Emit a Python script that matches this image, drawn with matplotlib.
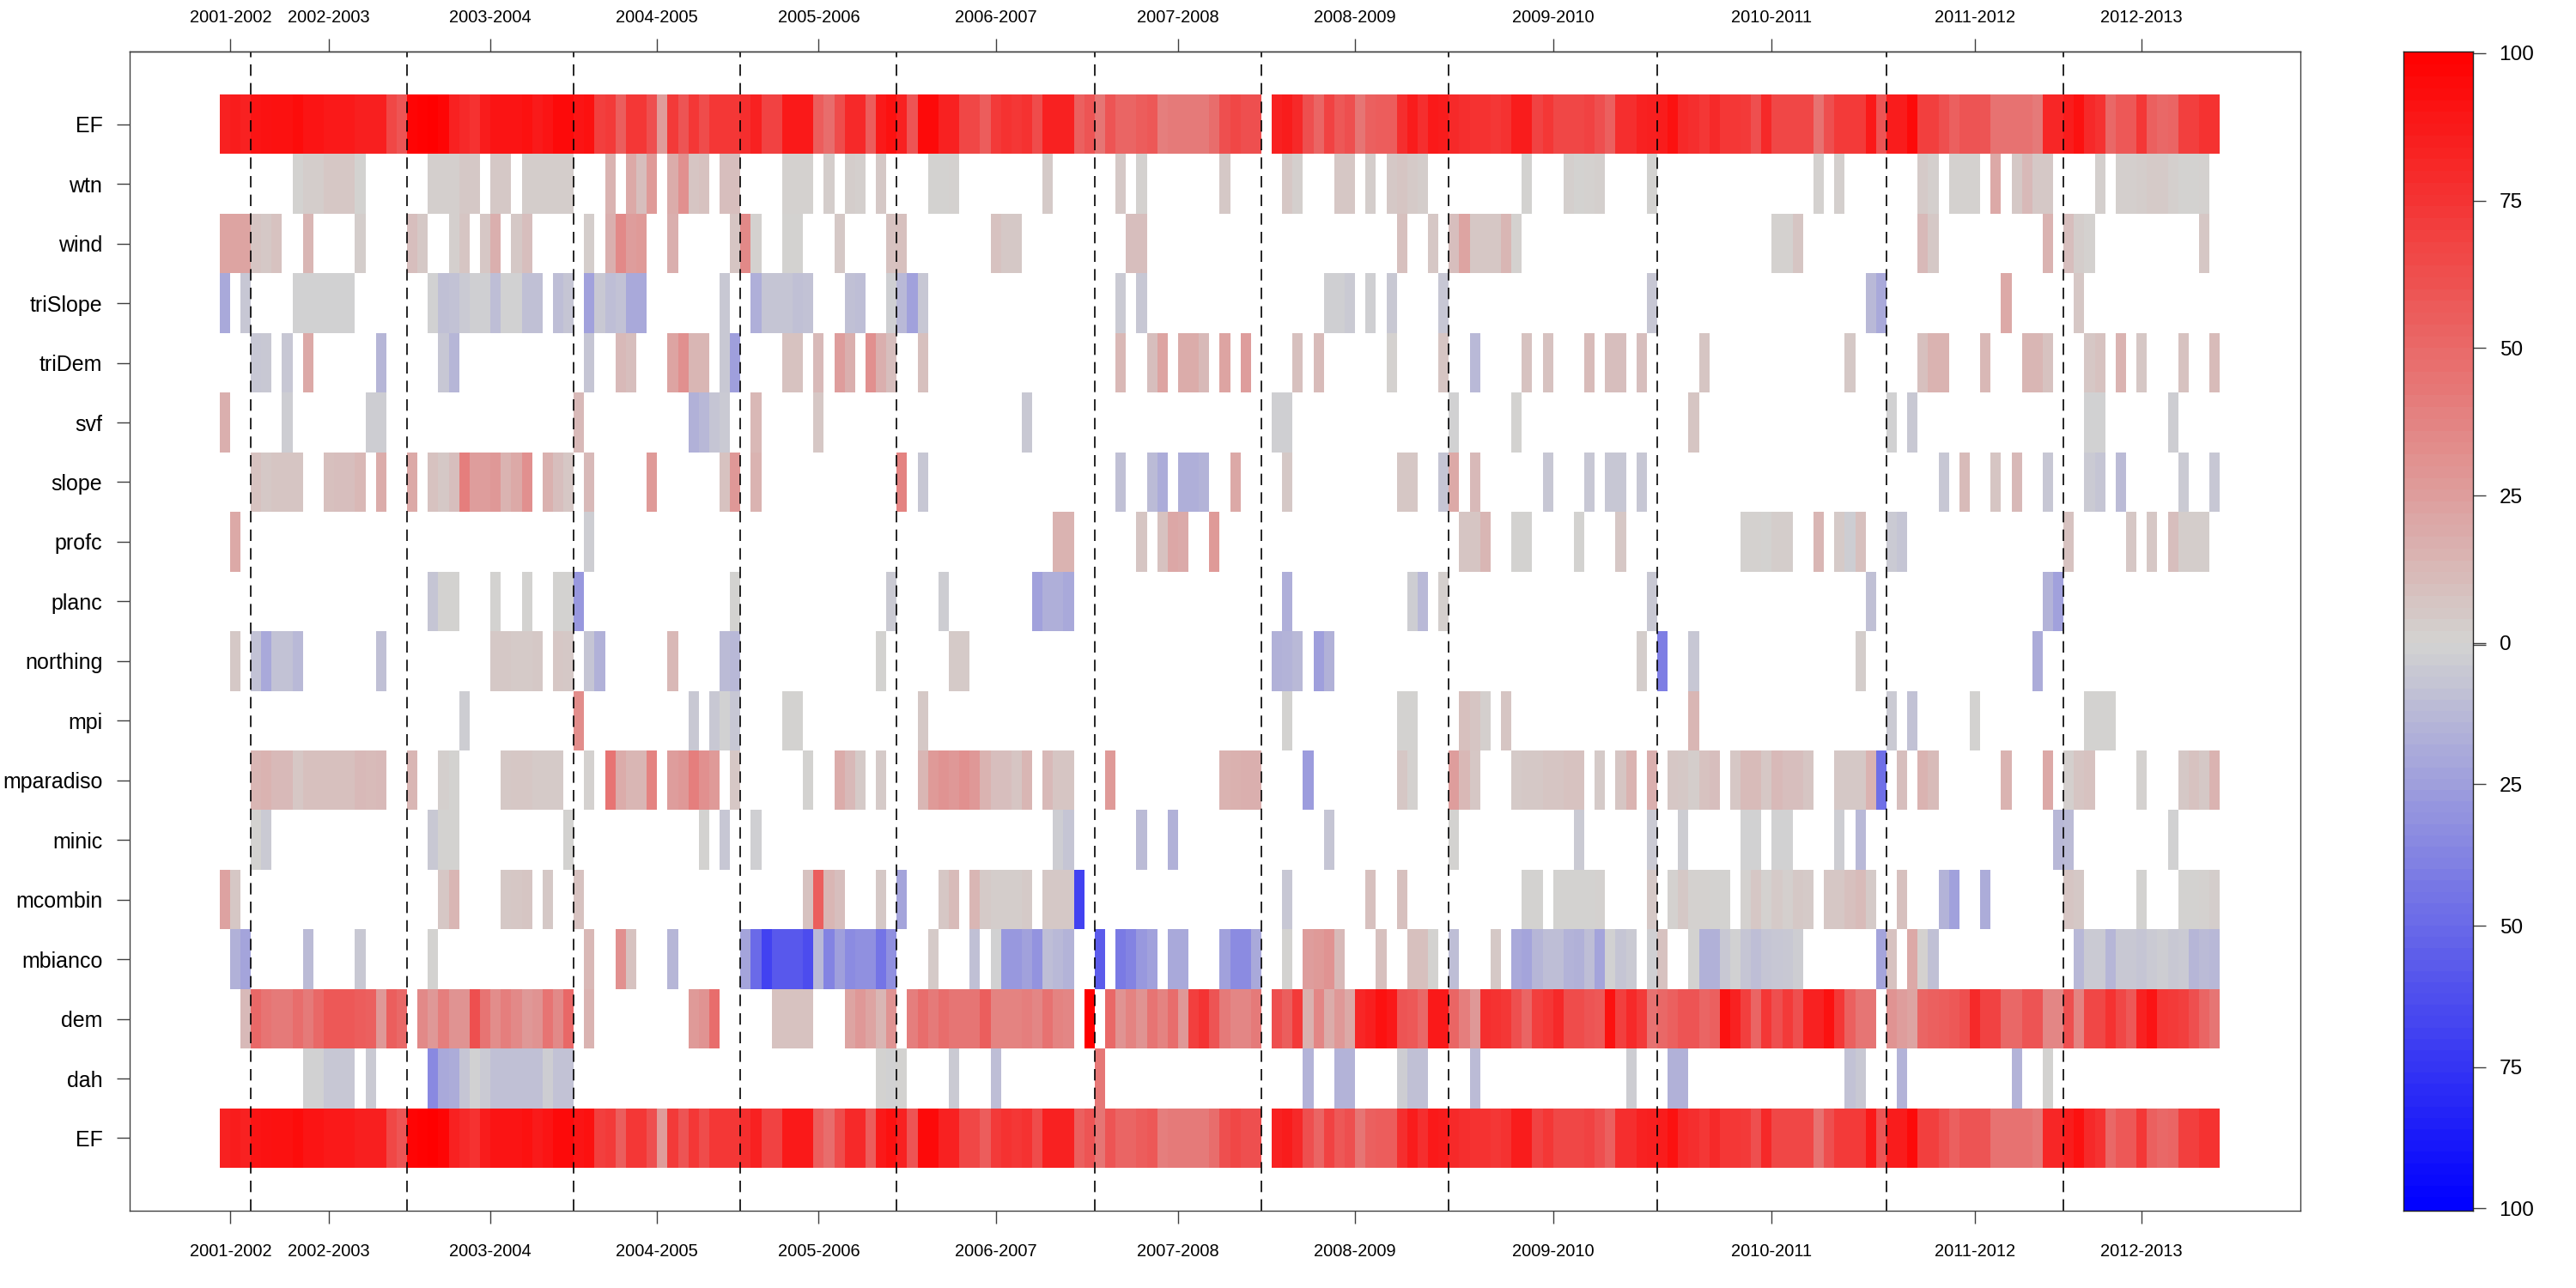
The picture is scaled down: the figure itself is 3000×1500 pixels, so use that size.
import numpy as np
import matplotlib
matplotlib.use("Agg")
import matplotlib.pyplot as plt
from matplotlib.colors import LinearSegmentedColormap

plt.rcParams['font.family'] = ['Liberation Sans', 'DejaVu Sans']

# each row: first composite index -> values of the run, everything else is empty
EF = {0: [84, 86, 84, 90, 91, 92, 92, 94, 90, 90, 88, 88, 88, 85, 85, 85, 66, 60, 97, 99,
          100, 97, 84, 80, 76, 86, 90, 90, 90, 92, 87, 90, 95, 95, 90, 92, 70, 72, 55, 74,
          74, 62, 26, 72, 60, 74, 64, 74, 74, 74, 78, 84, 68, 68, 88, 88, 88, 56, 48, 64,
          80, 80, 56, 88, 92, 84, 60, 95, 95, 84, 84, 66, 66, 56, 72, 76, 74, 76, 64, 84,
          84, 84, 54, 60, 44, 60, 52, 52, 56, 58, 40, 42, 42, 42, 42, 48, 62, 66, 62, 62],
      101: [84, 86, 80, 62, 52, 68, 58, 62, 44, 54, 56, 56, 78, 86, 78, 88, 86, 80, 78, 76,
            76, 74, 76, 86, 86, 68, 74, 66, 66, 66, 68, 62, 54, 78, 78, 84, 85, 86, 92, 80,
            78, 74, 80, 74, 74, 72, 62, 80, 66, 66, 66, 66, 46, 62, 72, 72, 72, 88, 60, 86,
            86, 95, 70, 70, 62, 54, 60, 60, 60, 46, 46, 46, 46, 42, 82, 82, 86, 92, 80, 76,
            50, 58, 58, 74, 54, 50, 52, 70, 70, 76, 76]}
wtn = {7: [0, 3, 3, 6, 6, 6, 0], 20: [2, 2, 2, 5, 5], 26: [5, 5], 29: [3, 3, 3, 3, 3],
       37: [15], 39: [20, 10, 27], 43: [18, 32, 7, 8], 48: [10, 10], 54: [1, 1, 1], 58: [3],
       60: [3, 2], 63: [5], 68: [0, 0, 1], 79: [4], 86: [5], 88: [1], 96: [5], 102: [6, 2],
       107: [6, 6], 110: [3], 112: [5, 7, 4, 3], 125: [0], 129: [2, 0, 1, 2], 137: [0],
       153: [1], 155: [2], 163: [4, 2], 166: [1, 1, 1], 170: [20], 172: [5, 12, 5, 5],
       180: [2], 182: [2, 2, 3, 4, 4, 2, 0, 0, 1]}
wind = {0: [22, 22, 22, 7, 5, 8], 8: [14], 13: [3], 18: [10, 5], 22: [2, 7], 25: [6, 17],
        28: [5, 10], 35: [3], 37: [17, 35, 25, 27], 43: [17], 49: [7, 35, 1], 54: [0, 0],
        59: [5], 64: [8, 9], 74: [8, 5, 5], 87: [10, 10], 113: [9], 116: [6],
        118: [10, 22, 6, 6, 6, 14, 1], 149: [1, 1, 7], 163: [12, 5], 175: [15],
        177: [10, 3, 1], 190: [6]}
triSlope = {0: [-20], 2: [-6], 7: [-1, -1, -1, -1, -1, -1], 20: [-1, -9, -8, -4, -2, -2, -10, -1, -1, -9, -9],
            32: [-10, -7], 35: [-24, -5, -10, -8, -20, -20], 48: [-5],
            51: [-17, -7, -7, -7, -9, -8], 60: [-9, -10], 64: [-2, -12, -24, -6], 86: [-4],
            88: [-6], 106: [-2, -2, -4], 110: [-2], 112: [-5], 117: [-6], 137: [-6],
            158: [-12, -20], 171: [20], 178: [6]}
triDem = {3: [-6, -5], 6: [-6], 8: [20], 15: [-14], 21: [-6, -14], 35: [-7], 38: [12, 10],
          43: [22, 32, 14, 14], 48: [-5, -25], 54: [8, 8], 57: [12], 59: [25, 17],
          62: [32, 17, 10], 67: [9], 86: [13], 89: [10, 22], 92: [18, 18, 12], 96: [22],
          98: [25], 103: [9], 105: [11], 112: [1], 117: [7], 120: [-12], 125: [8], 127: [8],
          131: [11], 133: [10, 10], 136: [10], 142: [7], 156: [5], 163: [9, 15, 15],
          169: [13], 173: [14, 14, 8], 179: [6, 8], 182: [15], 184: [6], 188: [8], 191: [11]}
svf = {0: [17], 6: [-3], 14: [-3, -3], 34: [12], 45: [-16, -13, -7, -4], 51: [13], 57: [6],
       77: [-5], 101: [-2, -2], 118: [-1], 124: [0], 141: [7], 160: [-1], 162: [-5],
       179: [-1, -1], 187: [-3]}
slope = {3: [8, 5, 7, 7, 7], 10: [9, 10, 10, 13], 15: [18], 18: [20],
         20: [8, 5, 10, 40, 25, 25, 28, 15, 20, 32], 31: [16, 10, 6], 35: [12], 41: [27],
         48: [8, 28], 51: [15], 65: [38], 67: [-6], 86: [-9], 89: [-11, -18], 92: [-17, -17, -15],
         97: [20], 102: [5], 113: [6, 6], 117: [-7, 20], 120: [12], 127: [-6], 131: [-6],
         133: [-6, -6], 136: [-6], 165: [-6], 167: [11], 170: [7], 172: [12], 175: [-6],
         179: [-4, -7], 182: [-11], 188: [-4], 191: [-6]}
profc = {1: [20], 35: [-3], 80: [15, 15], 88: [7], 90: [8, 21, 19], 95: [27], 119: [7, 7, 14],
         124: [0, 0], 130: [0], 134: [6], 146: [1, 1, 0, 3, 3], 153: [14], 155: [4, -3, 9],
         160: [-4, -7], 177: [8], 183: [6], 185: [6], 187: [10, 3, 3, 3]}
planc = {20: [-7, 0, 0], 26: [0], 29: [0], 32: [0, 0, -28], 49: [0], 64: [-4], 69: [-3],
         78: [-24, -17, -17, -20], 102: [-17], 114: [-3, -12], 117: [2], 137: [-5],
         158: [-9], 175: [-15, -24]}
northing = {1: [5], 3: [-8, -20, -8, -8, -12], 15: [-9], 26: [5, 5, 4, 4, 5], 32: [6, 5],
            35: [-7, -16], 43: [13], 48: [-11, -13], 63: [0], 70: [4, 4],
            101: [-16, -15, -12], 105: [-25, -16], 136: [3], 138: [-40], 141: [-6],
            157: [3], 174: [-18]}
mpi = {23: [-3], 34: [33], 45: [-5], 47: [-5, -1, -6], 54: [0, 0], 67: [5], 102: [0],
       113: [0, 0], 119: [9, 7, 2], 123: [7], 141: [14], 160: [-4], 162: [-8], 168: [0],
       179: [0, 0, 0]}
mparadiso = {3: [14, 15, 12, 12, 6, 9, 9, 9, 9, 9, 12, 11, 12], 18: [14], 21: [2, 0],
             27: [5, 6, 6, 4, 4, 4], 35: [1], 37: [45, 18, 14, 14, 38], 43: [25, 28, 40, 32, 27],
             49: [6], 56: [0], 59: [18, 12, 4], 63: [4],
             67: [14, 27, 30, 28, 32, 28, 15, 10, 10, 7, 14], 79: [12, 7, 7], 85: [27],
             96: [15, 16, 17, 17], 104: [-26], 113: [6, 1], 118: [25, 13, 6],
             124: [4, 5, 5, 7, 7, 8, 8], 132: [4], 134: [7, 15], 137: [17],
             139: [6, 5, 3, 8, 10], 145: [6, 11, 11, 6, 12, 10, 10, 7], 155: [5, 5, 5, 15, -47],
             161: [10], 163: [15, 11], 171: [15], 175: [20], 177: [2, 7, 8], 184: [1],
             188: [5, 8, 5, 15]}
minic = {3: [0, -4], 20: [-5, 0, 0], 33: [0], 46: [0], 48: [-6], 51: [-2], 80: [-3, -7],
         88: [-11], 91: [-16], 106: [-7], 118: [0], 130: [-4], 137: [-4], 140: [-3],
         146: [-1, -1], 149: [-1, -1], 155: [-3], 157: [-12], 176: [-13, -11], 187: [-1]}
mcombin = {0: [23, 6], 21: [6, 14], 27: [5, 6, 7], 31: [5], 34: [8], 56: [8, 55, 14, 10],
           63: [5], 65: [-22], 69: [6, 11], 72: [14, 4, 3, 3, 3, 4], 79: [5, 5, 5, -68],
           102: [-6], 110: [9], 113: [9], 125: [0, 0], 128: [0, 0, 0, 0, 1], 137: [5],
           139: [1, 5, 1, 1, 0, 0], 146: [1, 6, 1, 4, 2, 5, 4], 154: [6, 6, 9, 11, 4], 161: [9],
           165: [-15, -24], 169: [-18], 177: [7, 5], 184: [0], 188: [0, 0, 1, 3]}
mbianco = {1: [-16, -22], 8: [-11], 13: [-5], 20: [0], 35: [13], 38: [32, 8], 43: [-14],
           50: [-22, -50, -68, -58, -58, -58, -64, -12, -38, -25, -34, -32, -32, -45, -32],
           68: [4], 72: [-9], 74: [-1, -28, -28, -24, -30, -10, -12, -15], 84: [-57],
           86: [-42, -38, -28, -24], 91: [-20, -20], 96: [-24, -34, -34, -20], 102: [0],
           104: [25, 27, 30, 12], 111: [9], 114: [9, 9, 0], 118: [-10], 122: [5],
           124: [-20, -22, -14, -10, -10, -15, -16, -10, -22, -1, -7, -4], 137: [-2, 8],
           141: [0, -16, -16, -5, -1, -7, -10, -7, -6, -5, -3], 159: [-22, 8], 162: [20, 1, -9],
           178: [-13, -4, -4, -14, -5, -5, -7, -4, -3, -5, -4, -14, -11, -13]}
dem = {2: [12, 50, 45, 42, 42, 48, 42, 50, 58, 58, 58, 56, 54, 28, 55, 50],
       19: [35, 28, 40, 30, 30, 62, 45, 33, 40, 35, 28, 30, 45, 35, 50], 35: [15],
       45: [27, 30, 48], 53: [8, 8, 8, 8], 60: [22, 28, 22, 14, 30],
       66: [40, 48, 42, 48, 44, 44, 44, 55, 38, 38, 38, 40, 36, 46, 38, 36], 83: [100],
       85: [50, 30, 38, 30, 45, 38, 48, 28, 70, 75, 60, 42, 36, 36, 42],
       101: [62, 55, 72, 16, 36, 18, 28, 20, 82, 85, 92, 88, 60, 58, 50, 88, 88, 52, 40, 28,
             78, 76, 74, 62, 52, 70, 74, 80, 64, 64, 60, 58, 92, 70, 80, 72, 46, 50, 54, 60,
             60, 52, 54, 92, 84, 70, 52, 74, 62, 72, 62, 84, 84, 92, 74, 54, 44, 44],
       160: [30, 25, 22, 52, 54, 56, 58, 62, 80, 68, 68, 50, 50, 60, 60, 36, 36, 62, 38, 66,
             66, 76, 66, 58, 84, 90, 74, 72, 70, 62, 52, 44]}
dah = {8: [-1, -1, -6, -6, -6], 14: [-4], 20: [-35, -20, -18, -7, -1, -4, -9, -9, -9, -9, -9, -3, -8, -8],
       63: [0, -1, 0], 70: [-4], 74: [-10], 84: [43], 104: [-15], 107: [-15, -15], 113: [-3, -9, -9],
       120: [-11], 135: [-3], 139: [-16, -16], 156: [-8, -5], 161: [-15], 172: [-15], 175: [0]}

row_labels = ["EF", "wtn", "wind", "triSlope", "triDem", "svf", "slope", "profc", "planc",
              "northing", "mpi", "mparadiso", "minic", "mcombin", "mbianco", "dem", "dah", "EF"]
rows = [EF, wtn, wind, triSlope, triDem, svf, slope, profc, planc,
        northing, mpi, mparadiso, minic, mcombin, mbianco, dem, dah, EF]

years = ["2001-2002", "2002-2003", "2003-2004", "2004-2005", "2005-2006", "2006-2007",
         "2007-2008", "2008-2009", "2009-2010", "2010-2011", "2011-2012", "2012-2013"]
year_centers = [1.05, 10.5, 26, 42, 57.5, 74.5, 92, 109, 128, 149, 168.5, 184.5]
year_breaks = [3, 18, 34, 50, 65, 84, 100, 118, 138, 160, 177]
bar_ticks = [100, 75, 50, 25, 0, 25, 50, 75, 100]

n_cols = 192
grid = np.full((len(rows), n_cols), np.nan)
for i, row in enumerate(rows):
    for start, vals in row.items():
        grid[i, start:start + len(vals)] = vals

cmap = LinearSegmentedColormap.from_list("bgr", ["#0000ff", "#d3d3d1", "#ff0000"], N=256)
W, H = 3000.0, 1500.0
dark = "#404040"

fig = plt.figure(figsize=(15, 7.5), dpi=200)
ax = fig.add_axes([150.5 / W, 1 - 1409.5 / H, (2678.6 - 150.5) / W, (1409.5 - 60) / H])
ax.pcolormesh(np.arange(n_cols + 1), np.arange(len(rows) + 1), np.ma.masked_invalid(grid),
              cmap=cmap, vmin=-100, vmax=100, antialiased=False, linewidth=0)
ax.set_xlim(-8.67, 199.7)
ax.set_ylim(18.71, -0.72)

for b in year_breaks:
    ax.axvline(b, color="black", lw=0.6, ls=(0, (8, 5)))

ax.set_yticks(np.arange(len(rows)) + 0.5)
ax.set_yticklabels(row_labels, fontsize=9)
ax.set_xticks(year_centers)
ax.set_xticklabels(years, fontsize=7.2)
ax.tick_params(axis="y", length=5.4, width=0.5, color=dark, pad=5.8)
ax.tick_params(axis="x", length=5.4, width=0.5, color=dark, pad=8.5)
# top labels sit closer to their ticks than the bottom ones
top = ax.secondary_xaxis("top")
top.set_xticks(year_centers)
top.set_xticklabels(years, fontsize=7.2)
top.tick_params(axis="x", length=5.4, width=0.5, color=dark, pad=5.5)
top.spines["top"].set_linewidth(0.5)
top.spines["top"].set_color(dark)
for s in ax.spines.values():
    s.set_linewidth(0.5)
    s.set_color(dark)

# colour key: the 0 to 100 halves are not the same length in the original
neg_scale = 0.958
bar_low, bar_high = -96.2, 100.25
cax = fig.add_axes([2799 / W, 1 - 1410 / H, (2879.5 - 2799) / W, 1350 / H])
levels = np.arange(-100, 101, 2)
edges = np.where(levels < 0, levels * neg_scale, levels).astype(float)
edges[0], edges[-1] = bar_low, bar_high
mids = (levels[:-1] + levels[1:]) / 2
cax.pcolormesh([0, 1], edges, mids[:, None], cmap=cmap, vmin=-100, vmax=100,
               antialiased=False, linewidth=0)
cax.set_ylim(bar_low, bar_high)
cax.set_xticks([])
signs = [1, 1, 1, 1, 1, -1, -1, -1, -1]
tick_pos = [s * v * (neg_scale if s < 0 else 1) for s, v in zip(signs, bar_ticks)]
cax.yaxis.tick_right()
cax.set_yticks(tick_pos + [-0.32])
cax.set_yticklabels([str(v) for v in bar_ticks] + [""], fontsize=8.8)
cax.tick_params(axis="y", length=5.4, width=0.5, color=dark, pad=5.8)
for s in cax.spines.values():
    s.set_linewidth(0.5)
    s.set_color("#222222")

fig.savefig("out.png", dpi=200)
